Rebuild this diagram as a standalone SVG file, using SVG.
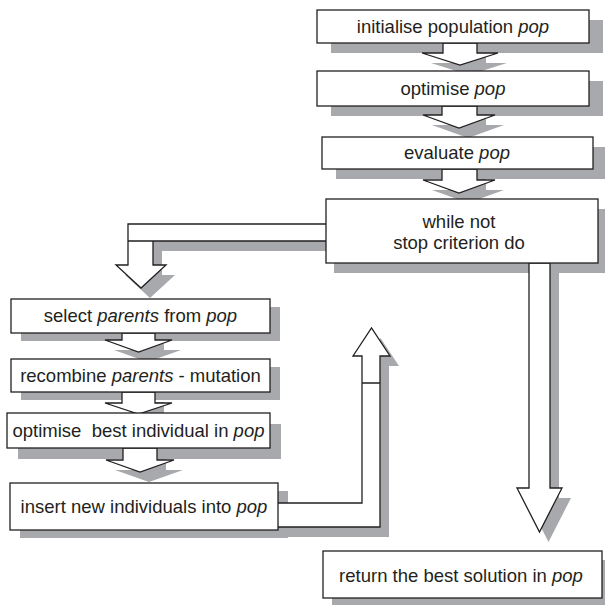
<svg xmlns="http://www.w3.org/2000/svg" width="605" height="605" viewBox="0 0 605 605">
<style>
.sh{fill:#a7a9ac;stroke:none}
.bx{fill:#fff;stroke:#231f20;stroke-width:1.3}
.ar{fill:#fff;stroke:#231f20;stroke-width:1.3;stroke-linejoin:miter}
text{font-family:"Liberation Sans",Arial,Helvetica,sans-serif;font-size:18.5px;fill:#231f20;text-anchor:middle}
.it{font-style:italic}
</style>
<defs>
<path id="a1" d="M443 43 V53 H422 L460 65 L498 53 H477 V43 Z"/>
<path id="a2" d="M442 106 V115 H423 L459 128 L495 115 H477 V106 Z"/>
<path id="a3" d="M442 169 V180 H423 L459 193 L495 180 H477 V169 Z"/>
<path id="a4" d="M330 224 H128 V241 H330 Z M128 241 V265 H116 L141 288 L166 265 H153 V241 Z"/>
<path id="a5" d="M122 333 V340 H105 L138.5 352 L172 340 H155 V333 Z"/>
<path id="a6" d="M122 392 V403 H105 L138.5 414 L172 403 H155 V392 Z"/>
<path id="a7" d="M123 448 V460 H106 L140 472 L174 460 H157 V448 Z"/>
<path id="a8" d="M529 263 V488 H517 L539.5 532 L562 488 H550 V263 Z"/>
<path id="a9" d="M274 503 H362 V383 H380 V527 H274 Z M362 383 V356 H353 L371.5 328 L390 356 H380 V383 Z"/>
</defs>
<g id="shadows" class="sh">
<rect x="331" y="20" width="272" height="33"/>
<rect x="331" y="81" width="272" height="35"/>
<rect x="336" y="147" width="271" height="32"/>
<rect x="334" y="209" width="272" height="64"/>
<rect x="21" y="307" width="259" height="34"/>
<rect x="21" y="367" width="259" height="33"/>
<rect x="18" y="424" width="263" height="35"/>
<rect x="20" y="491" width="268" height="47"/>
<rect x="332" y="560" width="279" height="47"/>
<g transform="translate(9 10)">
<use href="#a1"/><use href="#a2"/><use href="#a3"/><use href="#a4"/><use href="#a5"/><use href="#a6"/><use href="#a7"/><use href="#a8"/><use href="#a9"/>
</g>
</g>
<g id="connectors" class="ar">
<use href="#a1"/><use href="#a2"/><use href="#a3"/><use href="#a4"/><use href="#a5"/><use href="#a6"/><use href="#a7"/><use href="#a8"/><use href="#a9"/>
</g>
<g id="init">
<rect class="bx" x="317" y="10" width="272" height="33"/>
<text x="453" y="33">initialise population <tspan class="it">pop</tspan></text>
</g>
<g id="optimise">
<rect class="bx" x="317" y="71" width="272" height="35"/>
<text x="453" y="95">optimise <tspan class="it">pop</tspan></text>
</g>
<g id="evaluate">
<rect class="bx" x="322" y="137" width="271" height="32"/>
<text x="457" y="159">evaluate <tspan class="it">pop</tspan></text>
</g>
<g id="while">
<rect class="bx" x="326" y="199" width="272" height="64"/>
<text x="459" y="228">while not</text>
<text x="459" y="249">stop criterion do</text>
</g>
<g id="select">
<rect class="bx" x="11" y="299" width="259" height="34"/>
<text x="140.5" y="322">select <tspan class="it">parents</tspan> from <tspan class="it">pop</tspan></text>
</g>
<g id="recombine">
<rect class="bx" x="11" y="359" width="259" height="33"/>
<text x="140.5" y="382">recombine <tspan class="it">parents</tspan> - mutation</text>
</g>
<g id="optimise-best">
<rect class="bx" x="7" y="413" width="263" height="35"/>
<text x="138.5" y="437" xml:space="preserve">optimise  best individual in <tspan class="it">pop</tspan></text>
</g>
<g id="insert">
<rect class="bx" x="10" y="483" width="268" height="47"/>
<text x="144" y="513">insert new individuals into <tspan class="it">pop</tspan></text>
</g>
<g id="return">
<rect class="bx" x="323" y="551" width="279" height="47"/>
<text x="461" y="582">return the best solution in <tspan class="it">pop</tspan></text>
</g>
</svg>
